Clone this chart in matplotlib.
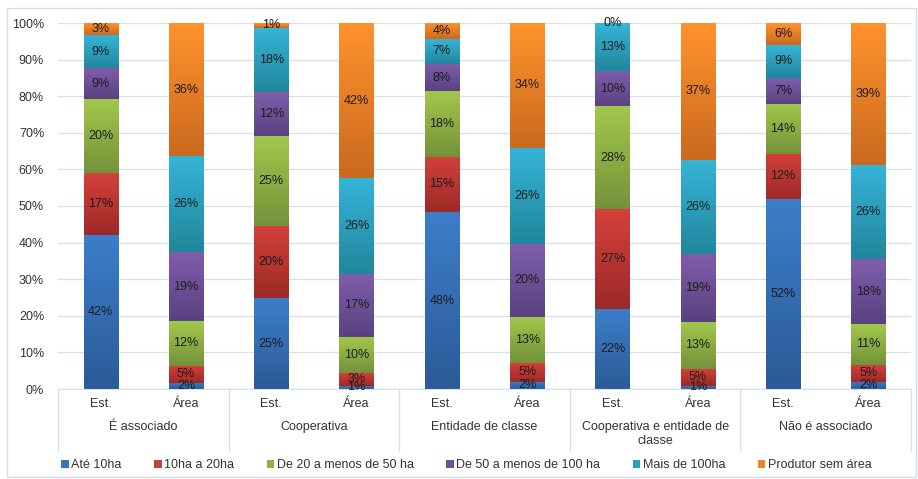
import numpy as np
import matplotlib
matplotlib.use("Agg")
import matplotlib.pyplot as plt
from matplotlib.colors import LinearSegmentedColormap
from matplotlib.patches import Patch, Rectangle

# ----------------------------------------------
# 1. Data (percent of establishments / area)
# ----------------------------------------------

groups = ["É associado", "Cooperativa", "Entidade de classe",
          "Cooperativa e entidade de\nclasse", "Não é associado"]
sub_labels = ["Est.", "Área"]

series_names = ["Até 10ha", "10ha a 20ha", "De 20 a menos de 50 ha",
                "De 50 a menos de 100 ha", "Mais de 100ha", "Produtor sem área"]

# one list per bar: Est./Área for each group
ate_10 = [42.1, 1.7, 24.8, 0.9, 48.3, 2.0, 21.9, 0.9, 51.9, 2.0]
de_10_20 = [16.8, 4.7, 19.8, 3.4, 15.2, 5.1, 27.2, 4.7, 12.4, 4.6]
de_20_50 = [20.2, 12.2, 24.6, 10.0, 17.8, 12.7, 28.1, 12.7, 13.7, 11.2]
de_50_100 = [8.6, 18.7, 11.9, 17.1, 7.6, 19.9, 9.8, 18.7, 7.0, 17.6]
mais_100 = [9.0, 26.3, 17.6, 26.2, 6.7, 26.2, 13.0, 25.7, 9.0, 25.8]
sem_area = [3.3, 36.4, 1.3, 42.4, 4.4, 34.1, 0.0, 37.3, 6.0, 38.8]

# (bottom colour, top colour) for the excel style gradient
grad_colors = [("#2b5b98", "#3d7eca"),
               ("#9c2a27", "#d4403b"),
               ("#74923a", "#a2c74c"),
               ("#5a4180", "#7f5eab"),
               ("#21879c", "#36b4d8"),
               ("#cb691f", "#ff932c")]
legend_colors = ["#3a73b8", "#c0403c", "#8fb144", "#6f529a", "#2ca2bf", "#f0842a"]

# ----------------------------------------------
# 2. Plot
# ----------------------------------------------

plt.rcParams["font.family"] = ["Liberation Sans", "DejaVu Sans"]

fig = plt.figure(figsize=(9.18, 4.79), dpi=100)
ax = fig.add_axes([58 / 918, 1 - 389 / 479, 853 / 918, 366 / 479])

# light frame round the whole chart
fig.patches.append(Rectangle((7 / 918, 2 / 479), 909 / 918, 469 / 479,
                             transform=fig.transFigure, fill=False,
                             edgecolor="#d3deea", linewidth=1.0))

all_series = [ate_10, de_10_20, de_20_50, de_50_100, mais_100, sem_area]
n_bars = len(ate_10)
x = np.arange(n_bars)
bar_w = 0.4

bottoms = np.zeros(n_bars)
for s_idx, vals in enumerate(all_series):
    vals = np.array(vals)
    cmap = LinearSegmentedColormap.from_list("g%d" % s_idx, grad_colors[s_idx])
    bars = ax.bar(x, vals, bar_w, bottom=bottoms, color="none", linewidth=0, zorder=2)
    grad = np.linspace(0, 1, 64).reshape(-1, 1)
    for b, v, bot in zip(bars, vals, bottoms):
        if v <= 0:
            continue
        im = ax.imshow(grad, extent=[b.get_x(), b.get_x() + bar_w, bot, bot + v],
                       origin="lower", aspect="auto", cmap=cmap, zorder=2,
                       interpolation="bilinear")
        im.set_clip_path(b)
    for xi, v, bot in zip(x, vals, bottoms):
        ax.text(xi, bot + v / 2, "%d%%" % round(v), ha="center", va="center",
                fontsize=9, color="#1c1c1c", zorder=4)
    bottoms = bottoms + vals

ax.set_xlim(-0.5, n_bars - 0.5)
ax.set_ylim(0, 100)
ax.set_yticks(np.arange(0, 101, 10))
ax.set_yticklabels(["%d%%" % t for t in range(0, 101, 10)], fontsize=9, color="#333333")
ax.tick_params(axis="y", length=0, pad=10)
ax.set_xticks([])
ax.grid(axis="y", color="#d7e1ee", linewidth=1.0, zorder=0)
ax.set_axisbelow(True)
for side in ["top", "right", "left"]:
    ax.spines[side].set_visible(False)
ax.spines["bottom"].set_color("#d7e1ee")

# two-level category axis
trans = ax.get_xaxis_transform()
for xi in x:
    ax.text(xi, -15 / 366, sub_labels[xi % 2], transform=trans, ha="center",
            va="center", fontsize=9, color="#333333")
for g, name in enumerate(groups):
    ax.text(2 * g + 0.5, -32 / 366, name, transform=trans, ha="center", va="top",
            fontsize=9, color="#333333", linespacing=1.2)
for g in range(len(groups) + 1):
    ax.plot([2 * g - 0.5, 2 * g - 0.5], [0, -62 / 366], transform=trans,
            color="#d7e1ee", linewidth=1.0, clip_on=False)

handles = [Patch(facecolor=c, edgecolor="none") for c in legend_colors]
fig.legend(handles, series_names, loc="center", ncol=6, frameon=False,
           bbox_to_anchor=(0.508, 1 - 465 / 479), fontsize=9,
           handlelength=0.6, handleheight=0.6, handletextpad=0.2,
           columnspacing=2.6, labelcolor="#333333")

fig.savefig("out.png", dpi=100)
